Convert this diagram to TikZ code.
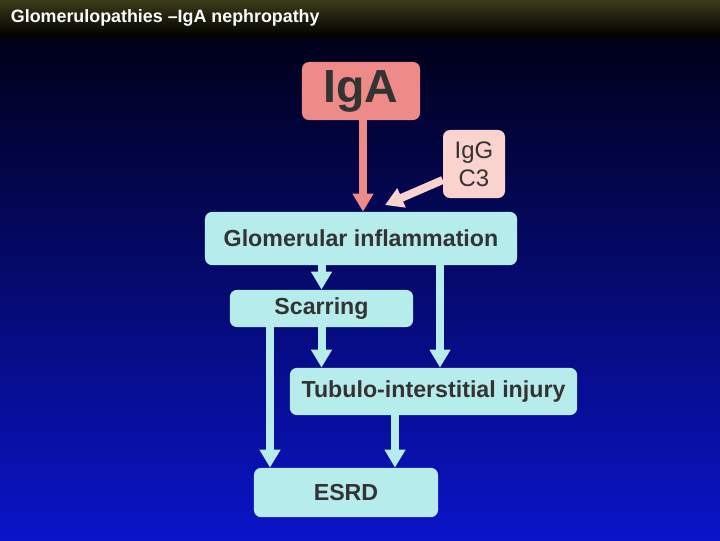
\documentclass[tikz,border=0pt]{standalone}
\usepackage{fontspec}
\setmainfont{Liberation Sans}
\usetikzlibrary{arrows.meta}
\definecolor{salmon}{HTML}{EE8A88}
\definecolor{pinklt}{HTML}{FBD3CE}
\definecolor{cyanlt}{HTML}{B7ECEC}
\definecolor{txtgray}{HTML}{333333}
\tikzset{
  box/.style={rounded corners=5pt,inner sep=0pt,font=\fontsize{16.5}{18}\selectfont\bfseries,text=txtgray},
  flow/.style={line width=0.2cm,-{Triangle[width=0.5cm,length=0.45cm]}}
}
\begin{document}
\begin{tikzpicture}[x=0.025cm,y=-0.025cm]
\useasboundingbox (0,0) rectangle (720,540);
% background
\shade[top color=black!90!blue,bottom color={rgb,255:red,10;green,20;blue,200}] (0,37) rectangle (720,540);
\shade[top color={rgb,255:red,60;green,60;blue,25},bottom color=black] (0,0) rectangle (720,37);
\node[anchor=west,text=white,font=\fontsize{12.7}{14}\selectfont\bfseries] (title) at (6,18) {Glomerulopathies –IgA nephropathy};
% boxes
\node[box,fill=salmon,minimum width=2.95cm,minimum height=1.45cm,font=\fontsize{33}{35}\selectfont\bfseries] (iga) at (361,91) {IgA};
\node[box,fill=pinklt,minimum width=1.55cm,minimum height=1.7cm,align=center,font=\fontsize{17}{20}\selectfont] (igg) at (474,164) {IgG\\C3};
\node[box,fill=cyanlt,minimum width=7.8cm,minimum height=1.33cm] (glom) at (361,238.5) {Glomerular inflammation};
\node[box,fill=cyanlt,minimum width=4.58cm,minimum height=0.93cm] (scar) at (321.5,308.5) {Scarring};
\node[box,fill=cyanlt,minimum width=7.18cm,minimum height=1.18cm] (tub) at (433.5,391.5) {Tubulo-interstitial injury};
\node[box,fill=cyanlt,minimum width=4.6cm,minimum height=1.23cm] (esrd) at (346,492.5) {ESRD};
% arrows
\draw[flow,draw=salmon] (iga.south -| 363,0) -- (glom.north -| 363,0);
\draw[flow,draw=pinklt] (igg.west |- 0,180) -- (385,205);
\draw[flow,draw=cyanlt] (glom.south -| scar.north) -- (scar.north);
\draw[flow,draw=cyanlt] (glom.south -| 440,0) -- (tub.north -| 440,0);
\draw[flow,draw=cyanlt] (scar.south) -- (tub.north -| scar.south);
\draw[flow,draw=cyanlt] (scar.south -| 270,0) -- (esrd.north -| 270,0);
\draw[flow,draw=cyanlt] (tub.south -| 395,0) -- (esrd.north -| 395,0);
\end{tikzpicture}
\end{document}
